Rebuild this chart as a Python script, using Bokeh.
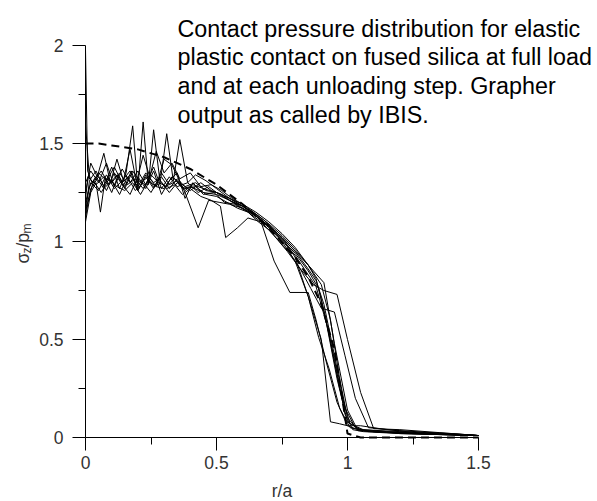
from math import pi
from bokeh.plotting import figure
from bokeh.models import Range1d, FixedTicker, Label, CustomJSTickFormatter
from bokeh.embed import file_html
from bokeh.resources import INLINE

# ---------------- data ----------------
x_ticks = [0, 0.5, 1, 1.5]
x_minor = [0.25, 0.75, 1.25]
y_ticks = [0, 0.5, 1, 1.5, 2]
y_minor = [0.25, 0.75, 1.25, 1.75]

title_lines = [
    "Contact pressure distribution for elastic",
    "plastic contact on fused silica at full load",
    "and at each unloading step. Grapher",
    "output as called by IBIS.",
]

r1 = [0, 0.015, 0.04, 0.07, 0.1, 0.13, 0.155, 0.18, 0.2, 0.22, 0.24, 0.26, 0.285, 0.31, 0.335, 0.36, 0.39, 0.42, 0.46, 0.5, 0.55, 0.6, 0.65, 0.7, 0.75, 0.8, 0.85, 0.89, 0.93, 0.97, 1.01, 1.06, 1.15, 1.3, 1.5]
y1 = [1.14, 1.31, 1.36, 1.28, 1.38, 1.27, 1.35, 1.59, 1.27, 1.61, 1.29, 1.57, 1.3, 1.55, 1.31, 1.52, 1.3, 1.34, 1.31, 1.27, 1.22, 1.18, 1.13, 1.08, 1.01, 0.94, 0.85, 0.76, 0.52, 0.25, 0.07, 0.04, 0.03, 0.02, 0.01]

r2 = [0, 0.01, 0.03, 0.06, 0.09, 0.12, 0.15, 0.18, 0.21, 0.24, 0.27, 0.3, 0.33, 0.38, 0.43, 0.47, 0.51, 0.55, 0.6, 0.65, 0.7, 0.75, 0.8, 0.85, 0.88, 0.91, 0.95, 0.99, 1.03, 1.08, 1.2, 1.35, 1.5]
y2 = [1.22, 1.33, 1.3, 1.36, 1.29, 1.34, 1.27, 1.36, 1.3, 1.33, 1.28, 1.42, 1.39, 1.25, 1.07, 1.21, 1.2, 1.19, 1.17, 1.13, 1.08, 1.02, 0.95, 0.86, 0.8, 0.68, 0.42, 0.15, 0.05, 0.03, 0.025, 0.015, 0.01]

r3 = [0, 0.02, 0.04, 0.057, 0.075, 0.1, 0.125, 0.15, 0.175, 0.2, 0.23, 0.26, 0.29, 0.32, 0.35, 0.38, 0.41, 0.45, 0.5, 0.55, 0.6, 0.65, 0.7, 0.75, 0.8, 0.85, 0.9, 0.935, 0.97, 1.0, 1.04, 1.1, 1.25, 1.5]
y3 = [1.1, 1.25, 1.3, 1.15, 1.32, 1.25, 1.34, 1.28, 1.36, 1.26, 1.33, 1.27, 1.35, 1.29, 1.31, 1.26, 1.29, 1.27, 1.25, 1.22, 1.18, 1.14, 1.09, 1.03, 0.96, 0.88, 0.78, 0.6, 0.3, 0.1, 0.04, 0.03, 0.02, 0.01]

r4 = [0, 0.008, 0.025, 0.05, 0.08, 0.11, 0.14, 0.17, 0.2, 0.23, 0.26, 0.29, 0.32, 0.35, 0.38, 0.42, 0.46, 0.5, 0.55, 0.6, 0.65, 0.7, 0.75, 0.8, 0.85, 0.88, 0.91, 0.95, 0.99, 1.02, 1.06, 1.2, 1.5]
y4 = [1.98, 1.36, 1.3, 1.35, 1.31, 1.38, 1.3, 1.34, 1.28, 1.35, 1.3, 1.33, 1.27, 1.32, 1.28, 1.3, 1.26, 1.25, 1.22, 1.19, 1.15, 1.1, 1.04, 0.97, 0.88, 0.81, 0.65, 0.4, 0.12, 0.04, 0.03, 0.02, 0.01]

r5 = [0, 0.015, 0.04, 0.07, 0.1, 0.13, 0.16, 0.19, 0.22, 0.25, 0.28, 0.31, 0.34, 0.37, 0.4, 0.44, 0.48, 0.515, 0.535, 0.58, 0.62, 0.67, 0.72, 0.78, 0.85, 0.88, 0.92, 0.96, 1.0, 1.04, 1.1, 1.3, 1.5]
y5 = [1.18, 1.28, 1.33, 1.27, 1.31, 1.24, 1.33, 1.26, 1.3, 1.25, 1.32, 1.27, 1.29, 1.24, 1.27, 1.23, 1.21, 1.18, 1.02, 1.07, 1.12, 1.1, 0.9, 0.74, 0.74, 0.6, 0.38, 0.18, 0.06, 0.04, 0.03, 0.02, 0.01]

r6 = [0, 0.02, 0.05, 0.08, 0.11, 0.14, 0.17, 0.2, 0.23, 0.26, 0.29, 0.32, 0.35, 0.39, 0.43, 0.47, 0.51, 0.55, 0.6, 0.65, 0.7, 0.75, 0.8, 0.85, 0.9, 0.935, 0.97, 1.0, 1.05, 1.15, 1.3, 1.5]
y6 = [1.3, 1.36, 1.3, 1.4, 1.28, 1.37, 1.3, 1.36, 1.29, 1.38, 1.27, 1.33, 1.28, 1.3, 1.25, 1.28, 1.24, 1.21, 1.18, 1.13, 1.07, 1.0, 0.9, 0.72, 0.5, 0.08, 0.07, 0.06, 0.06, 0.04, 0.02, 0.01]

r7 = [0, 0.02, 0.05, 0.08, 0.11, 0.14, 0.17, 0.2, 0.23, 0.26, 0.29, 0.32, 0.35, 0.38, 0.41, 0.45, 0.49, 0.53, 0.57, 0.62, 0.67, 0.72, 0.77, 0.82, 0.87, 0.91, 0.96, 1.0, 1.05, 1.1, 1.2, 1.35, 1.5]
y7 = [1.15, 1.27, 1.33, 1.26, 1.35, 1.29, 1.24, 1.33, 1.27, 1.36, 1.24, 1.31, 1.35, 1.22, 1.3, 1.24, 1.25, 1.2, 1.19, 1.15, 1.1, 1.03, 0.95, 0.86, 0.78, 0.75, 0.73, 0.5, 0.23, 0.045, 0.04, 0.025, 0.01]

r8 = [0, 0.02, 0.05, 0.08, 0.11, 0.14, 0.17, 0.2, 0.23, 0.26, 0.29, 0.32, 0.35, 0.38, 0.42, 0.46, 0.5, 0.54, 0.58, 0.62, 0.66, 0.7, 0.74, 0.78, 0.82, 0.86, 0.9, 0.95, 0.99, 1.03, 1.08, 1.2, 1.5]
y8 = [1.2, 1.3, 1.26, 1.34, 1.27, 1.31, 1.36, 1.26, 1.34, 1.28, 1.3, 1.25, 1.3, 1.27, 1.28, 1.24, 1.23, 1.2, 1.17, 1.15, 1.1, 1.06, 1.0, 0.94, 0.86, 0.76, 0.66, 0.64, 0.42, 0.2, 0.05, 0.035, 0.01]

r9 = [0, 0.015, 0.04, 0.07, 0.1, 0.13, 0.16, 0.19, 0.22, 0.25, 0.28, 0.31, 0.34, 0.37, 0.4, 0.45, 0.5, 0.55, 0.6, 0.65, 0.7, 0.75, 0.8, 0.85, 0.91, 0.95, 1.0, 1.04, 1.1, 1.25, 1.5]
y9 = [1.6, 1.32, 1.29, 1.33, 1.3, 1.35, 1.29, 1.32, 1.27, 1.34, 1.3, 1.28, 1.32, 1.27, 1.28, 1.25, 1.24, 1.21, 1.17, 1.13, 1.08, 1.02, 0.95, 0.88, 0.79, 0.48, 0.14, 0.035, 0.03, 0.02, 0.01]

r10 = [0, 0.01, 0.03, 0.06, 0.09, 0.12, 0.15, 0.18, 0.21, 0.24, 0.27, 0.3, 0.33, 0.36, 0.4, 0.44, 0.48, 0.52, 0.56, 0.6, 0.64, 0.68, 0.72, 0.76, 0.8, 0.85, 0.89, 0.93, 0.97, 1.01, 1.06, 1.2, 1.5]
y10 = [1.12, 1.2, 1.31, 1.25, 1.32, 1.28, 1.26, 1.3, 1.24, 1.31, 1.28, 1.27, 1.33, 1.3, 1.26, 1.3, 1.26, 1.24, 1.2, 1.18, 1.15, 1.11, 1.06, 1.0, 0.92, 0.72, 0.51, 0.35, 0.15, 0.05, 0.035, 0.02, 0.01]

r11 = [0, 0.02, 0.045, 0.07, 0.095, 0.12, 0.145, 0.17, 0.195, 0.22, 0.245, 0.27, 0.3, 0.33, 0.36, 0.4, 0.44, 0.48, 0.52, 0.56, 0.6, 0.64, 0.68, 0.72, 0.76, 0.8, 0.84, 0.88, 0.92, 0.96, 1.0, 1.05, 1.2, 1.4, 1.5]
y11 = [1.25, 1.4, 1.33, 1.45, 1.3, 1.42, 1.31, 1.47, 1.3, 1.44, 1.33, 1.46, 1.35, 1.4, 1.32, 1.35, 1.28, 1.29, 1.26, 1.22, 1.19, 1.15, 1.1, 1.05, 0.99, 0.93, 0.85, 0.77, 0.58, 0.3, 0.08, 0.04, 0.03, 0.02, 0.01]

r_dash = [0.0, 0.05, 0.1, 0.2, 0.3, 0.4, 0.5, 0.6, 0.7, 0.8, 0.85, 0.9, 0.95, 0.98, 1.0, 1.05, 1.5]
y_dash = [1.5, 1.5, 1.49, 1.47, 1.43, 1.37, 1.29, 1.19, 1.07, 0.92, 0.82, 0.68, 0.45, 0.2, 0.02, 0.0, 0.0]

solid_series = [(r1, y1), (r2, y2), (r3, y3), (r4, y4), (r5, y5), (r6, y6),
                (r7, y7), (r8, y8), (r9, y9), (r10, y10), (r11, y11)]

# ---------------- layout ----------------
W, H = 597, 501
FONT = "Liberation Sans"

# page pixel -> data (origin of the axes at pixel (85, 437); 262 px per unit in r, 196 px per unit in sigma)
def dx(px):
    return (px - 85) / 262.0

def dy(py):
    return (437 - py) / 196.0

p = figure(width=W, height=H, output_backend="svg", toolbar_location=None,
           x_range=Range1d(dx(0), dx(W)), y_range=Range1d(dy(H), dy(0)),
           min_border_left=0, min_border_right=0, min_border_top=0, min_border_bottom=0)
p.outline_line_color = None
p.grid.visible = False
p.background_fill_color = "white"
p.border_fill_color = "white"

fmt = CustomJSTickFormatter(code="return String(tick);")
for ax in (p.xaxis[0], p.yaxis[0]):
    ax.fixed_location = 0
    ax.axis_line_color = "black"
    ax.axis_line_width = 1
    ax.major_tick_in = 0
    ax.major_tick_out = 13
    ax.minor_tick_in = 0
    ax.minor_tick_out = 7
    ax.major_tick_line_color = "black"
    ax.minor_tick_line_color = "black"
    ax.major_label_text_font = FONT
    ax.major_label_text_font_size = "17.5px"
    ax.major_label_text_color = "#333333"
    ax.formatter = fmt
p.xaxis[0].bounds = (x_ticks[0], x_ticks[-1])
p.yaxis[0].bounds = (y_ticks[0], y_ticks[-1])
p.xaxis[0].ticker = FixedTicker(ticks=x_ticks, minor_ticks=x_minor)
p.yaxis[0].ticker = FixedTicker(ticks=y_ticks, minor_ticks=y_minor)
p.xaxis[0].major_label_standoff = 5
p.yaxis[0].major_label_standoff = 9

for rr, yy in solid_series:
    p.line(rr, yy, line_color="black", line_width=1)
p.line(r_dash, y_dash, line_color="black", line_width=2, line_dash="8 5")

# title block
for i, line in enumerate(title_lines):
    p.add_layout(Label(x=dx(177), y=dy(28 + 28.7 * i), text=line,
                       text_font=FONT, text_font_size="23.3px", text_color="black",
                       text_align="left", text_baseline="alphabetic"))

# x axis label
p.add_layout(Label(x=dx(281.5), y=dy(490), text="r/a", text_font=FONT,
                   text_font_size="17.5px", text_color="#333333",
                   text_align="center", text_baseline="alphabetic"))

# y axis label  sigma_z / p_m  (rotated)
ylab_parts = [("σ", "17.5px", 22, 263), ("z", "12px", 26, 253),
              ("/p", "17.5px", 22, 247), ("m", "12px", 26, 233)]
for txt, fs, bx, by in ylab_parts:
    p.add_layout(Label(x=dx(bx), y=dy(by), text=txt, text_font=FONT,
                       text_font_size=fs, text_color="#333333", angle=pi / 2,
                       text_align="left", text_baseline="alphabetic"))

open("out.html", "w").write(file_html(p, INLINE))
